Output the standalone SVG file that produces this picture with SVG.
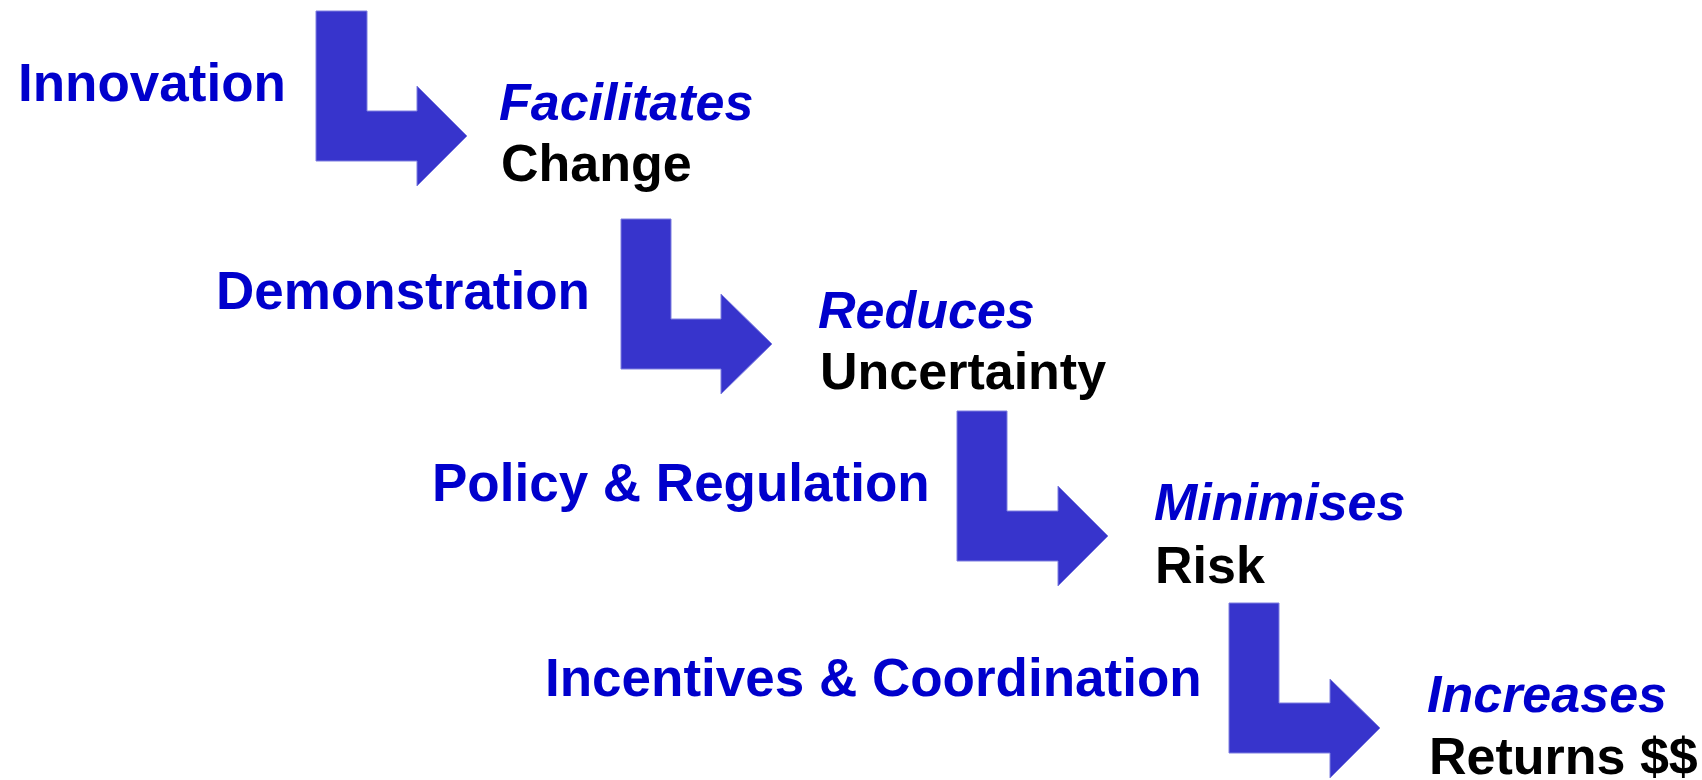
<svg xmlns="http://www.w3.org/2000/svg" width="1702" height="780" viewBox="0 0 1702 780">
<style>
  .t { font-family: "Liberation Sans", Arial, sans-serif; font-weight: bold; font-size: 53px; }
  .r { font-size: 52px; }
  .b { fill: #0000CC; }
  .k { fill: #000000; }
  .i { font-style: italic; }
  .arrow { fill: #3734CC; stroke: #7f7fe0; stroke-width: 1; }
</style>
<rect width="1702" height="780" fill="#ffffff"/>
<g id="connectors">
  <polygon class="arrow" points="316,11 367,11 367,111 417,111 417,86 467,136 417,186 417,161 316,161"/>
  <polygon class="arrow" points="621,219 671,219 671,319 721,319 721,294 772,344 721,394 721,369 621,369"/>
  <polygon class="arrow" points="957,411 1007,411 1007,511 1058,511 1058,486 1108,536 1058,586 1058,561 957,561"/>
  <polygon class="arrow" points="1229,603 1279,603 1279,703 1330,703 1330,679 1380,728 1330,778 1330,753 1229,753"/>
</g>
<g id="innovation"><text class="t b" x="18" y="101">Innovation</text></g>
<g id="change"><text class="t r b i" x="499" y="120">Facilitates</text><text class="t r k" x="501" y="181">Change</text></g>
<g id="demonstration"><text class="t b" x="216" y="309">Demonstration</text></g>
<g id="uncertainty"><text class="t r b i" x="818" y="328">Reduces</text><text class="t r k" x="820" y="389">Uncertainty</text></g>
<g id="policy"><text class="t b" x="432" y="501">Policy &amp; Regulation</text></g>
<g id="risk"><text class="t r b i" x="1154" y="520">Minimises</text><text class="t r k" x="1155" y="583">Risk</text></g>
<g id="incentives"><text class="t b" x="545" y="696">Incentives &amp; Coordination</text></g>
<g id="returns"><text class="t r b i" x="1427" y="712">Increases</text><text class="t r k" x="1429" y="774">Returns $$</text></g>
</svg>
